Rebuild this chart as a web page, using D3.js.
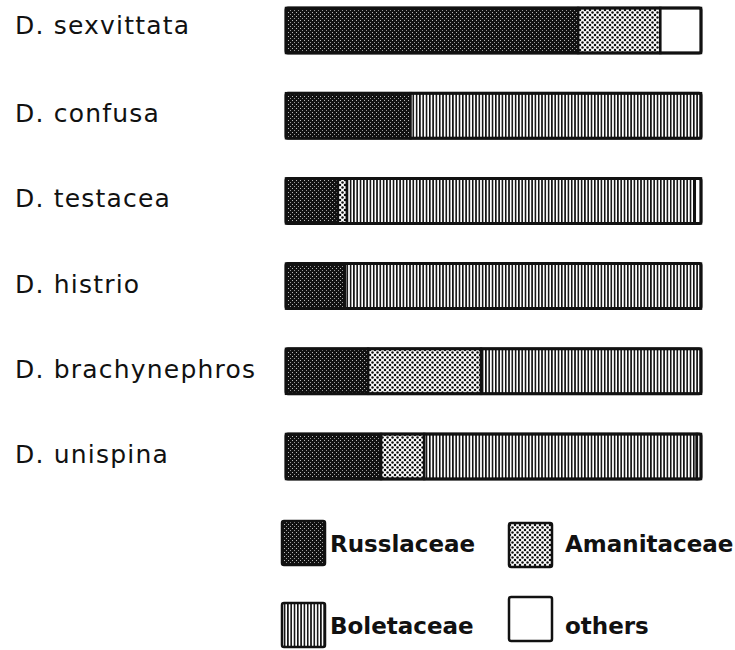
<!DOCTYPE html>
<html>
<head>
<meta charset="utf-8">
<script src="https://cdn.jsdelivr.net/npm/d3@7"></script>
<style>
  html, body { margin: 0; padding: 0; background: #fff; }
  svg { display: block; }
  .lab { font-family: "DejaVu Sans", sans-serif; font-size: 25px; letter-spacing: 1.2px; fill: #111; white-space: pre; }
  .leg { font-family: "DejaVu Sans", sans-serif; font-size: 23px; font-weight: bold; fill: #111; }
</style>
</head>
<body>
<svg id="chart" width="735" height="650"></svg>
<script>
// ---- data (percent of mushroom hosts per family) ----
const species = ["D. sexvittata", "D. confusa", "D. testacea", "D. histrio", "D. brachynephros", "D. unispina"];
const families = ["Russulaceae", "Amanitaceae", "Boletaceae", "others"];
const legendLabels = ["Russlaceae", "Amanitaceae", "Boletaceae", "others"];
const russulaceae = [70.4, 30, 12.5, 14.2, 19.8, 22.9];
const amanitaceae = [19.8, 0, 2.2, 0, 27.2, 10.4];
const boletaceae  = [0, 70, 83.8, 85.8, 53, 65.7];
const others      = [9.8, 0, 1.5, 0, 0, 1.0];

const rows = species.map((s, i) => ({
  species: s,
  Russulaceae: russulaceae[i],
  Amanitaceae: amanitaceae[i],
  Boletaceae: boletaceae[i],
  others: others[i]
}));

const svg = d3.select("#chart");
const defs = svg.append("defs");

// Russulaceae: dark stipple
const pR = defs.append("pattern").attr("id", "pat-Russulaceae")
  .attr("patternUnits", "userSpaceOnUse").attr("width", 4).attr("height", 4);
pR.append("rect").attr("width", 4).attr("height", 4).attr("fill", "#111");
pR.append("rect").attr("x", 0).attr("y", 0).attr("width", 1).attr("height", 1).attr("fill", "#bbb");
pR.append("rect").attr("x", 2).attr("y", 2).attr("width", 1).attr("height", 1).attr("fill", "#999");

// Amanitaceae: black dots on white
const pA = defs.append("pattern").attr("id", "pat-Amanitaceae")
  .attr("patternUnits", "userSpaceOnUse").attr("width", 5).attr("height", 5);
pA.append("rect").attr("width", 5).attr("height", 5).attr("fill", "#fff");
[[0,0],[5,0],[0,5],[5,5],[2.5,2.5]].forEach(([cx, cy]) =>
  pA.append("circle").attr("cx", cx).attr("cy", cy).attr("r", 1.25).attr("fill", "#111"));

// Boletaceae: vertical lines
const pB = defs.append("pattern").attr("id", "pat-Boletaceae")
  .attr("patternUnits", "userSpaceOnUse").attr("width", 3.3).attr("height", 6);
pB.append("rect").attr("width", 3.3).attr("height", 6).attr("fill", "#fff");
pB.append("rect").attr("x", 0).attr("width", 1.6).attr("height", 6).attr("fill", "#111");

const fills = {
  Russulaceae: "url(#pat-Russulaceae)",
  Amanitaceae: "url(#pat-Amanitaceae)",
  Boletaceae: "url(#pat-Boletaceae)",
  others: "#fff"
};

// scales
const x = d3.scaleLinear().domain([0, 100]).range([286, 701]);
const y = d3.scaleBand().domain(species).range([8, 479]).paddingInner(0.472).paddingOuter(0);

const stack = d3.stack().keys(families)(rows);

const g = svg.append("g");
stack.forEach(layer => {
  g.selectAll(null)
    .data(layer.filter(d => d[1] - d[0] > 0))
    .join("rect")
    .attr("x", d => x(d[0]))
    .attr("y", d => y(d.data.species))
    .attr("width", d => x(d[1]) - x(d[0]))
    .attr("height", y.bandwidth())
    .attr("fill", fills[layer.key])
    .attr("stroke", "#111")
    .attr("stroke-width", 2.5);
});

// outer frame
g.selectAll(null).data(rows).join("rect")
  .attr("x", x(0))
  .attr("y", d => y(d.species))
  .attr("width", d => x(100) - x(0))
  .attr("height", y.bandwidth())
  .attr("rx", 2)
  .attr("fill", "none")
  .attr("stroke", "#111")
  .attr("stroke-width", 3);

// species labels
svg.selectAll("text.lab").data(species).join("text")
  .attr("class", "lab")
  .attr("x", 15)
  .attr("y", (d, i) => y(d) + y.bandwidth() / 2 - (i === 0 ? 5 : 2))
  .attr("dominant-baseline", "central")
  .text(d => d);

// legend
const legendPos = [
  { x: 282, y: 521, ty: 544 }, { x: 509, y: 523, ty: 544 },
  { x: 282, y: 603, ty: 626 }, { x: 509, y: 597, ty: 626 }
];
const lg = svg.append("g");
families.forEach((f, i) => {
  const p = legendPos[i];
  lg.append("rect")
    .attr("x", p.x).attr("y", p.y)
    .attr("width", 43).attr("height", 44)
    .attr("rx", 2)
    .attr("fill", fills[f])
    .attr("stroke", "#111").attr("stroke-width", 2.5);
  lg.append("text")
    .attr("class", "leg")
    .attr("x", p.x + (i % 2 === 0 ? 48 : 56))
    .attr("y", p.ty)
    .attr("dominant-baseline", "central")
    .text(legendLabels[i]);
});
</script>
</body>
</html>
